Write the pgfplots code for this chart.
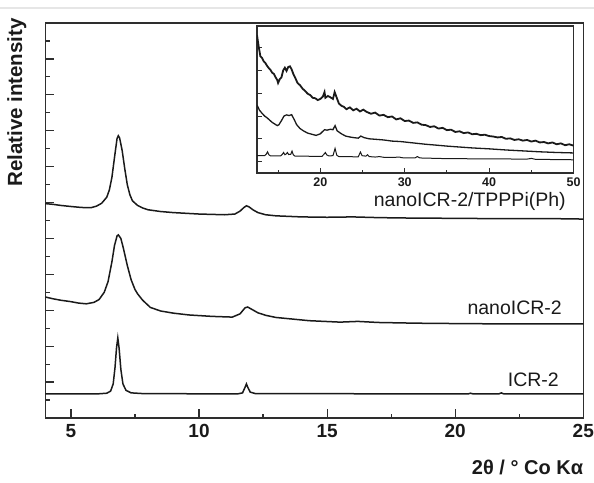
\documentclass[border=0pt]{standalone}
\usepackage{fontspec}
\setmainfont{Liberation Sans}
\usepackage{pgfplots}
\pgfplotsset{compat=1.18}
\definecolor{ink}{HTML}{1A1A1A}
\definecolor{frame}{HTML}{2E2E2E}
\definecolor{rule}{HTML}{E6E6E6}

\begin{document}
\begin{tikzpicture}
\useasboundingbox (-45.3pt,-64pt) rectangle (548.7pt,418pt);
\draw[rule, line width=2pt] (-45.3pt,410pt) -- (548.7pt,410pt);

% main diffractograms
\begin{axis}[
  at={(0pt,0pt)}, anchor=south west,
  width=538pt, height=395pt, scale only axis,
  xmin=4, xmax=25, ymin=0, ymax=11,
  xtick={5,10,15,20,25}, minor xtick={7.5,12.5,17.5,22.5},
  ytick={1,...,10}, minor ytick={0.5,1.5,...,10.5}, yticklabels={},
  xtick pos=bottom, ytick pos=left, tick align=inside,
  major tick length=9pt, minor tick length=4.5pt,
  every tick/.style={frame, line width=1.2pt},
  axis line style={frame, line width=1.6pt},
  /pgf/number format/assume math mode=true,
  xticklabel style={font=\bfseries\fontsize{19}{20}\selectfont, color=ink, yshift=-3pt},
  ylabel={Relative intensity},
  ylabel style={at={(axis description cs:-0.0712,1.0127)}, anchor=north east, rotate=0,
    font=\bfseries\fontsize{20.5}{21}\selectfont, color=ink, inner sep=0pt},
  clip=false,
]
% nanoICR-2/TPPPi(Ph)
\addplot[ink, line width=1.5pt] coordinates {
(4.0,5.97) (4.3,5.95) (4.6,5.92) (5.0,5.89) (5.3,5.87) (5.5,5.86) (5.8,5.86) (6.0,5.90) (6.2,5.98)
(6.4,6.15) (6.5,6.35) (6.6,6.70) (6.7,7.25) (6.8,7.78) (6.85,7.86) (6.9,7.80)
(7.0,7.45) (7.1,6.95) (7.2,6.50) (7.3,6.22) (7.4,6.05) (7.6,5.92) (7.8,5.85)
(8.0,5.80) (8.5,5.75) (9.0,5.72) (10.0,5.68) (11.0,5.66) (11.4,5.68) (11.6,5.76)
(11.75,5.86) (11.85,5.91) (11.95,5.88) (12.1,5.80) (12.3,5.72) (12.6,5.66)
(13.0,5.63) (14.0,5.60) (15.0,5.59) (16.0,5.60) (17.0,5.58) (18.0,5.57)
(20.0,5.56) (22.0,5.55) (24.0,5.55) (25.0,5.54)};
% nanoICR-2
\addplot[ink, line width=1.5pt] coordinates {
(4.0,3.37) (4.3,3.32) (4.6,3.28) (5.0,3.24) (5.3,3.20) (5.6,3.18) (5.9,3.22)
(6.1,3.30) (6.3,3.50) (6.45,3.80) (6.6,4.35) (6.7,4.80) (6.8,5.07) (6.85,5.10)
(6.95,5.00) (7.05,4.72) (7.2,4.25) (7.35,3.85) (7.5,3.58) (7.6,3.46) (7.8,3.28)
(8.1,3.08) (8.5,2.98) (9.0,2.92) (9.6,2.87) (10.5,2.83) (11.3,2.81) (11.6,2.90)
(11.8,3.07) (11.9,3.09) (12.05,3.03) (12.3,2.93) (12.6,2.86) (13.0,2.80)
(14.3,2.71) (15.5,2.67) (16.2,2.69) (17.0,2.66) (18.5,2.64) (20.0,2.63)
(22.0,2.62) (25.0,2.62)};
% ICR-2
\addplot[ink, line width=1.5pt] coordinates {
(4.0,0.67) (6.0,0.67) (6.4,0.69) (6.55,0.75) (6.65,0.95) (6.72,1.40) (6.78,1.95)
(6.83,2.23) (6.88,1.95) (6.95,1.35) (7.03,0.95) (7.15,0.77) (7.35,0.70) (7.8,0.68)
(11.5,0.67) (11.7,0.70) (11.8,0.86) (11.85,0.95) (11.9,0.86) (12.0,0.72)
(12.2,0.68) (20.5,0.67) (20.6,0.69) (20.7,0.67) (21.7,0.67) (21.8,0.70)
(21.9,0.67) (25.0,0.67)};
\node[anchor=base east, font=\fontsize{19.5}{20}\selectfont, color=ink, inner sep=0pt] at (axis cs:24.32,5.88) {nanoICR-2/TPPPi(Ph)};
\node[anchor=base east, font=\fontsize{19.5}{20}\selectfont, color=ink, inner sep=0pt] at (axis cs:24.17,2.87) {nanoICR-2};
\node[anchor=base east, font=\fontsize{19.5}{20}\selectfont, color=ink, inner sep=0pt] at (axis cs:24.05,0.89) {ICR-2};
\node[anchor=base east, font=\bfseries\fontsize{20}{21}\selectfont, color=ink, inner sep=0pt] at (rel axis cs:1,0) [yshift=-56pt] {2θ / ° Co Kα};
\end{axis}

% inset: wide angle range
\begin{axis}[
  at={(211.7pt,245pt)}, anchor=south west,
  width=316.5pt, height=147pt, scale only axis,
  xmin=12.5, xmax=50, ymin=-0.5, ymax=5.95,
  xtick={20,30,40,50}, minor xtick={15,25,35,45},
  ytick={0,...,5}, yticklabels={},
  xtick pos=bottom, ytick pos=left, tick align=inside,
  major tick length=5pt, minor tick length=3pt,
  every tick/.style={frame, line width=1pt},
  axis line style={frame, line width=1.2pt},
  /pgf/number format/assume math mode=true,
  xticklabel style={font=\bfseries\fontsize{12.5}{13}\selectfont, color=ink, yshift=-1pt},
]
\addplot[ink, line width=1.8pt] coordinates {
(12.5,5.55) (12.7,5.05) (12.9,4.62) (13.1,4.55) (13.3,4.40) (13.5,4.32) (13.7,4.20)
(13.9,4.10) (14.1,4.02) (14.3,3.90) (14.5,3.85) (14.7,3.70) (14.9,3.58) (15.0,3.45)
(15.2,3.62) (15.4,3.70) (15.6,4.00) (15.8,4.12) (16.0,3.98) (16.2,4.15) (16.4,4.18)
(16.6,4.05) (16.8,3.85) (17.0,3.70) (17.3,3.45) (17.6,3.35) (17.9,3.20) (18.2,3.10)
(18.5,2.98) (18.8,2.92) (19.1,2.80) (19.4,2.78) (19.7,2.70) (20.0,2.75) (20.3,2.85)
(20.5,3.05) (20.6,2.80) (20.9,2.88) (21.2,2.82) (21.5,2.75) (21.7,3.05) (21.9,2.85)
(22.2,2.55) (22.5,2.45) (22.8,2.40) (23.1,2.30) (23.5,2.38) (23.9,2.25) (24.3,2.32)
(24.7,2.20) (25.1,2.28) (25.5,2.18) (26.0,2.10) (26.5,2.15) (27.0,2.02) (27.5,2.05)
(28.0,1.95) (28.5,1.98) (29.0,1.85) (29.5,1.90) (30.0,1.78) (30.5,1.80) (31.0,1.70)
(31.5,1.72) (32.0,1.62) (32.5,1.60) (33.0,1.52) (33.5,1.55) (34.0,1.45) (34.5,1.48)
(35.0,1.38) (35.5,1.40) (36.0,1.30) (36.5,1.33) (37.0,1.25) (37.5,1.28) (38.0,1.20)
(38.5,1.22) (39.0,1.16) (39.5,1.18) (40.0,1.12) (40.5,1.10) (41.0,1.06) (41.5,1.08)
(42.0,1.00) (42.5,1.02) (43.0,0.95) (43.5,0.98) (44.0,0.92) (44.5,0.95) (45.0,0.88)
(45.5,0.92) (46.0,0.84) (46.5,0.86) (47.0,0.80) (47.5,0.84) (48.0,0.76) (48.5,0.80)
(49.0,0.72) (49.5,0.76) (50.0,0.70)};
\addplot[ink, line width=1.3pt] coordinates {
(12.5,2.48) (12.8,2.25) (13.1,2.12) (13.4,2.00) (13.7,1.92) (14.0,1.82) (14.3,1.72)
(14.6,1.65) (14.9,1.58) (15.1,1.62) (15.4,1.80) (15.7,2.00) (16.0,2.05) (16.3,2.02)
(16.6,2.06) (16.9,1.85) (17.2,1.62) (17.6,1.45) (18.0,1.35) (18.5,1.25) (19.0,1.20)
(19.5,1.15) (20.0,1.22) (20.5,1.40) (20.8,1.38) (21.2,1.42) (21.5,1.40) (21.75,1.58)
(22.0,1.35) (22.5,1.22) (23.0,1.12) (23.5,1.08) (24.0,1.05) (24.5,1.03) (24.8,1.12)
(25.2,1.05) (25.8,1.00) (26.5,0.98) (27.5,0.95) (28.5,0.90) (29.5,0.88) (30.5,0.84)
(31.5,0.80) (32.5,0.76) (33.5,0.73) (35.0,0.68) (36.5,0.64) (38.0,0.60) (40.0,0.56)
(42.0,0.51) (44.0,0.47) (46.0,0.43) (48.0,0.40) (50.0,0.38)};
\addplot[ink, line width=1pt] coordinates {
(12.5,0.26) (13.4,0.26) (13.6,0.33) (13.75,0.43) (13.9,0.30) (14.1,0.25) (15.3,0.25)
(15.5,0.32) (15.65,0.40) (15.8,0.30) (15.95,0.33) (16.1,0.40) (16.25,0.31) (16.5,0.32)
(16.65,0.46) (16.8,0.30) (17.0,0.24) (20.2,0.23) (20.45,0.33) (20.6,0.40) (20.75,0.30)
(21.0,0.25) (21.5,0.26) (21.75,0.58) (21.95,0.28) (22.2,0.22) (24.5,0.21) (24.75,0.42)
(24.95,0.26) (25.4,0.24) (25.6,0.30) (25.8,0.22) (26.5,0.20) (27.0,0.22) (27.5,0.19)
(28.5,0.18) (29.4,0.20) (29.6,0.17) (31.2,0.16) (31.5,0.22) (31.8,0.16) (35.0,0.13)
(40.0,0.12) (44.5,0.11) (45.0,0.14) (45.5,0.10) (50.0,0.08)};
\end{axis}
\end{tikzpicture}
\end{document}
